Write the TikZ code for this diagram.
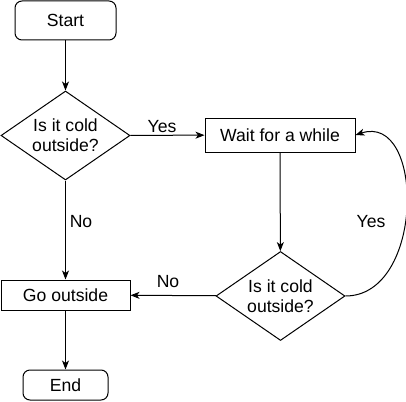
\documentclass[tikz,border=0pt]{standalone}
\usepackage{fontspec}
\setmainfont{Liberation Sans}
\usetikzlibrary{shapes.geometric,arrows.meta}
\begin{document}
\begin{tikzpicture}[x=1pt,y=-1pt,line width=1pt,
    font=\fontsize{17.6}{20}\selectfont,
    terminal/.style={draw,rounded corners=7pt,inner sep=0pt},
    process/.style={draw,inner sep=0pt},
    decision/.style={draw,diamond,aspect=1.45,align=center,inner sep=0pt,
      minimum width=129pt,minimum height=89pt},
    arr/.style={-{Stealth[length=9pt,width=7pt,inset=2.5pt]}}]
  \useasboundingbox (0,0) rectangle (406,401);
  \node[terminal,minimum width=101pt,minimum height=39pt] (start) at (65.5,20.5) {Start};
  \node[decision] (cold1) at (65.5,135.5) {Is it cold\\outside?};
  \node[process,minimum width=150pt,minimum height=34pt] (wait) at (280,135) {Wait for a while};
  \node[decision] (cold2) at (280.5,296) {Is it cold\\outside?};
  \node[process,minimum width=129pt,minimum height=30pt] (goout) at (65.5,295) {Go outside};
  \node[terminal,minimum width=85pt,minimum height=30pt] (stop) at (65.5,385) {End};
  \draw[arr] (start) -- (cold1);
  \draw[arr] (cold1) -- (wait);
  \draw[arr] (cold1) -- (goout);
  \draw[arr] (wait) -- (cold2);
  \draw[arr] (cold2) -- (goout);
  \draw[arr] (goout) -- (stop);
  \draw[arr] (cold2.east) .. controls (425,296) and (425,112) .. (wait.east);
  \node (yes1) at (162,127) {Yes};
  \node (no1) at (81,222) {No};
  \node (no2) at (168,282) {No};
  \node (yes2) at (371,222) {Yes};
\end{tikzpicture}
\end{document}
